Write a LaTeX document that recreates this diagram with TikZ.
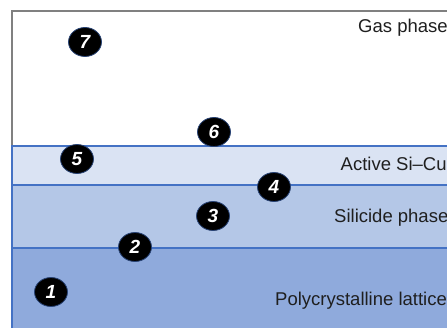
\documentclass[tikz,border=0pt]{standalone}
\usepackage{fontspec}
\setmainfont{Liberation Sans}
\usetikzlibrary{shapes.geometric,positioning}
\definecolor{layertop}{HTML}{DAE3F3}
\definecolor{layermid}{HTML}{B4C7E7}
\definecolor{layerbot}{HTML}{8FAADC}
\definecolor{layerline}{HTML}{4472C4}
\tikzset{stage/.style={ellipse,fill=black,draw=layerline!60!black,line width=0.8pt,minimum width=33pt,minimum height=29pt,inner sep=0pt,text=white,font=\fontsize{19}{19}\selectfont\bfseries\itshape},
         layer label/.style={anchor=base west,inner sep=0pt,text=black!88,font=\fontsize{18.5}{22}\selectfont},
         layer edge/.style={draw=layerline,line width=1.3pt},
         frame edge/.style={draw=black!50,line width=1.6pt},
}
\begin{document}
\begin{tikzpicture}[x=1pt,y=-1pt]
\clip (0,0) rectangle (447,328);
\fill[white] (0,0) rectangle (447,328);
% layers
\fill[layertop] (12,146) rectangle (460,185);
\fill[layermid] (12,185) rectangle (460,248);
\fill[layerbot] (12,248) rectangle (460,335);
\draw[frame edge] (12,146) |- (460,11);
\draw[layer edge] (12,335) -- (12,146) -- (460,146);
\draw[layer edge] (12,185) -- (460,185);
\draw[layer edge] (12,248) -- (460,248);
% labels
\node[layer label] (gas) at (358,33) {Gas phase};
\node[layer label] (active) at (340.5,170.5) {Active Si–Cu};
\node[layer label] (silicide) at (334,223) {Silicide phase};
\node[layer label] (poly) at (275,305.5) {Polycrystalline lattice};
% steps
\node[stage] (1) at (51,292) {1};
\node[stage] (2) at (135,247) {2};
\node[stage] (3) at (213,216) {3};
\node[stage] (4) at (274,187) {4};
\node[stage] (5) at (77,159) {5};
\node[stage] (6) at (214,132) {6};
\node[stage] (7) at (85,42) {7};
\end{tikzpicture}
\end{document}
